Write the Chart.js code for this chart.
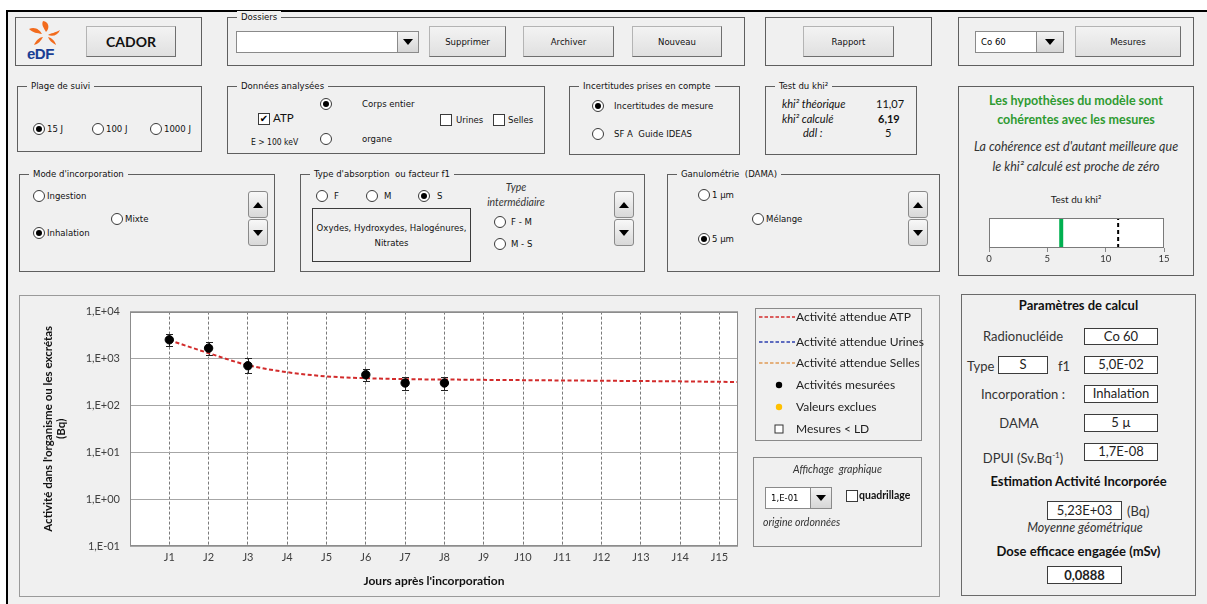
<!DOCTYPE html>
<html><head><meta charset="utf-8">
<script src="https://cdn.jsdelivr.net/npm/chart.js@4.4.0/dist/chart.umd.min.js"></script>
<style>
:root{--ui:"DejaVu Sans Condensed","Liberation Sans",sans-serif;--cal:"Lato","Carlito",sans-serif}
html,body{margin:0;padding:0;background:#fff;width:1207px;height:604px;overflow:hidden;position:relative}
#frame{position:absolute;left:6px;top:10px;width:1201px;height:594px;background:#f0f0f0;border-top:2px solid #000;border-left:2px solid #000;box-sizing:border-box}
.box{position:absolute;box-sizing:border-box;border:1px solid #5f5f5f}
.gl{position:absolute;top:-7px;left:9px;background:#f0f0f0;padding:0 4px;font:9.5px var(--ui);color:#111;line-height:12px;white-space:nowrap}
.t{position:absolute;white-space:nowrap;font:9.5px var(--ui);color:#111;line-height:12px}
.c{font-family:var(--cal)}
.btn{position:absolute;box-sizing:border-box;background:linear-gradient(#f3f3f3,#e0e0e0);border:1px solid #b4b4b4;border-right-color:#6f6f6f;border-bottom-color:#6f6f6f;font:9.5px var(--ui);color:#111;display:flex;align-items:center;justify-content:center}
.dd{position:absolute;box-sizing:border-box;background:#fff;border:1px solid #8a8a8a;font:9.5px var(--ui);line-height:20px;padding-left:5px}
.dda{position:absolute;top:0;right:0;bottom:0;box-sizing:border-box;background:linear-gradient(#f3f3f3,#d6d6d6);border-left:1px solid #8a8a8a;display:flex;align-items:center;justify-content:center}
.dn{width:0;height:0;border-left:5px solid transparent;border-right:5px solid transparent;border-top:6px solid #000}
.up{width:0;height:0;border-left:5px solid transparent;border-right:5px solid transparent;border-bottom:6px solid #000}
.rb{position:absolute;box-sizing:border-box;width:12px;height:12px;border:1px solid #3a3a3a;border-radius:50%;background:#fff}
.rb.on::after{content:"";position:absolute;left:2px;top:2px;width:6px;height:6px;border-radius:50%;background:#000}
.cb{position:absolute;box-sizing:border-box;width:12px;height:12px;border:1px solid #3a3a3a;background:#fff;font:10px "DejaVu Sans";line-height:10px;text-align:center}
.sp{position:absolute;box-sizing:border-box;width:20px;height:27px;border:1px solid #8a8a8a;border-radius:3px;background:linear-gradient(#f8f8f8,#d8d8d8);display:flex;align-items:center;justify-content:center}
.vb{position:absolute;box-sizing:border-box;background:#fff;border:1px solid #3c3c3c;font:13px var(--cal);color:#222;text-align:center;line-height:15px}
.pl{position:absolute;font:13px var(--cal);color:#333;white-space:nowrap;text-align:center;line-height:16px}
.lg{position:absolute;white-space:nowrap;font:12px var(--cal);line-height:14px;color:#222}
canvas{position:absolute}
</style></head>
<body>
<div id="frame"></div>

<!-- Row 1 -->
<div class="box" style="left:15px;top:17px;width:187px;height:49px"></div>
<svg style="position:absolute;left:26px;top:20px" width="40" height="42" viewBox="0 0 40 42">
  <g fill="#f26b1d">
    <path d="M17 1 C23 2 24 8 20 12 C18 8 15 5 17 1Z"/>
    <path d="M3 9 C9 6 14 10 16 14 C11 13 7 13 3 9Z"/>
    <path d="M34 10 C29 13 25 13 22 15 C27 17 32 15 34 10Z"/>
    <path d="M8 25 C10 20 14 17 17 17 C15 21 12 24 8 25Z"/>
    <path d="M30 25 C26 23 23 20 22 17 C26 18 29 21 30 25Z"/>
  </g>
  <text x="1" y="39" font-family="Liberation Sans" font-weight="bold" font-size="15" fill="#1a3f95" letter-spacing="-0.5">eDF</text>
</svg>
<div class="btn" style="left:86px;top:26px;width:90px;height:31px;font:bold 14px var(--cal)">CADOR</div>

<div class="box" style="left:227px;top:17px;width:518px;height:49px"><span class="gl">Dossiers</span></div>
<div class="dd" style="left:236px;top:31px;width:183px;height:22px"><div class="dda" style="width:21px"><div class="dn"></div></div></div>
<div class="btn" style="left:429px;top:26px;width:77px;height:31px">Supprimer</div>
<div class="btn" style="left:523px;top:26px;width:91px;height:31px">Archiver</div>
<div class="btn" style="left:632px;top:26px;width:90px;height:31px">Nouveau</div>

<div class="box" style="left:765px;top:17px;width:167px;height:49px"></div>
<div class="btn" style="left:803px;top:26px;width:91px;height:31px">Rapport</div>

<div class="box" style="left:958px;top:17px;width:236px;height:49px"></div>
<div class="dd" style="left:975px;top:31px;width:89px;height:22px">Co 60<div class="dda" style="width:27px"><div class="dn"></div></div></div>
<div class="btn" style="left:1075px;top:26px;width:106px;height:31px">Mesures</div>

<!-- Row 2 -->
<div class="box" style="left:17px;top:86px;width:185px;height:66px"><span class="gl">Plage de suivi</span></div>
<div class="rb on" style="left:33px;top:123px"></div><div class="t" style="left:47px;top:123px">15 J</div>
<div class="rb" style="left:92px;top:123px"></div><div class="t" style="left:106px;top:123px">100 J</div>
<div class="rb" style="left:150px;top:123px"></div><div class="t" style="left:164px;top:123px">1000 J</div>

<div class="box" style="left:227px;top:86px;width:318px;height:68px"><span class="gl">Données analysées</span></div>
<div class="cb" style="left:258px;top:113px">✔</div><div class="t c" style="left:273px;top:112px;font-size:11.5px">ATP</div>
<div class="t" style="left:251px;top:136px;font-size:8.5px">E &gt; 100 keV</div>
<div class="rb on" style="left:320px;top:98px"></div><div class="t" style="left:362px;top:98px">Corps entier</div>
<div class="rb" style="left:320px;top:133px"></div><div class="t" style="left:362px;top:133px">organe</div>
<div class="cb" style="left:440px;top:114px"></div><div class="t" style="left:456px;top:114px">Urines</div>
<div class="cb" style="left:493px;top:114px"></div><div class="t" style="left:508px;top:114px">Selles</div>

<div class="box" style="left:569px;top:86px;width:171px;height:69px"><span class="gl">Incertitudes prises en compte</span></div>
<div class="rb on" style="left:592px;top:100px"></div><div class="t" style="left:614px;top:100px">Incertitudes de mesure</div>
<div class="rb" style="left:592px;top:128px"></div><div class="t" style="left:614px;top:128px">SF A&nbsp; Guide IDEAS</div>

<div class="box" style="left:765px;top:86px;width:152px;height:69px"><span class="gl">Test du khi²</span></div>
<div class="t c" style="left:782px;top:98px;font-size:11px;font-style:italic">khi² théorique</div><div class="t c" style="left:876px;top:98px;font-size:11px">11,07</div>
<div class="t c" style="left:782px;top:113px;font-size:11px;font-style:italic">khi² calculé</div><div class="t c" style="left:878px;top:113px;font-size:11px;font-weight:bold">6,19</div>
<div class="t c" style="left:803px;top:127px;font-size:11px;font-style:italic">ddl :</div><div class="t c" style="left:885px;top:127px;font-size:11px">5</div>

<div class="box" style="left:958px;top:86px;width:236px;height:190px"></div>
<div class="pl" style="left:958px;width:236px;top:93px;font-weight:bold;color:#2f9b32;font-size:12.5px">Les hypothèses du modèle sont</div>
<div class="pl" style="left:958px;width:236px;top:112px;font-weight:bold;color:#2f9b32;font-size:12.5px">cohérentes avec les mesures</div>
<div class="pl" style="left:958px;width:236px;top:139px;font-style:italic;color:#333;font-size:12.5px">La cohérence est d'autant meilleure que</div>
<div class="pl" style="left:958px;width:236px;top:159px;font-style:italic;color:#333;font-size:12.5px">le khi² calculé est proche de zéro</div>
<div class="pl" style="left:958px;width:236px;top:191px;font-size:10px;color:#222">Test du khi²</div>
<canvas id="khi" width="200" height="64" style="left:975px;top:208px"></canvas>

<!-- Row 3 -->
<div class="box" style="left:19px;top:174px;width:256px;height:98px"><span class="gl">Mode d'incorporation</span></div>
<div class="rb" style="left:33px;top:190px"></div><div class="t" style="left:47px;top:190px">Ingestion</div>
<div class="rb" style="left:111px;top:213px"></div><div class="t" style="left:125px;top:213px">Mixte</div>
<div class="rb on" style="left:33px;top:227px"></div><div class="t" style="left:47px;top:227px">Inhalation</div>
<div class="sp" style="left:248px;top:191px"><div class="up"></div></div>
<div class="sp" style="left:248px;top:219px"><div class="dn"></div></div>

<div class="box" style="left:300px;top:174px;width:345px;height:98px"><span class="gl">Type d'absorption&nbsp; ou facteur f1</span></div>
<div class="rb" style="left:316px;top:190px"></div><div class="t" style="left:334px;top:190px">F</div>
<div class="rb" style="left:366px;top:190px"></div><div class="t" style="left:384px;top:190px">M</div>
<div class="rb on" style="left:418px;top:190px"></div><div class="t" style="left:437px;top:190px">S</div>
<div class="pl" style="left:476px;width:80px;top:180px;font-size:10.5px;font-style:italic;line-height:14px">Type</div>
<div class="pl" style="left:476px;width:80px;top:195px;font-size:10.5px;font-style:italic;line-height:14px">intermédiaire</div>
<div class="box" style="left:312px;top:208px;width:159px;height:54px;border-color:#3c3c3c"></div>
<div class="pl" style="left:312px;width:159px;top:220px;font:9.5px var(--ui);line-height:15px;color:#111">Oxydes, Hydroxydes, Halogénures,<br>Nitrates</div>
<div class="rb" style="left:494px;top:216px"></div><div class="t" style="left:511px;top:216px">F - M</div>
<div class="rb" style="left:494px;top:238px"></div><div class="t" style="left:511px;top:238px">M - S</div>
<div class="sp" style="left:614px;top:191px"><div class="up"></div></div>
<div class="sp" style="left:614px;top:219px"><div class="dn"></div></div>

<div class="box" style="left:667px;top:174px;width:273px;height:98px"><span class="gl">Ganulométrie&nbsp; (DAMA)</span></div>
<div class="rb" style="left:698px;top:189px"></div><div class="t" style="left:712px;top:189px">1 µm</div>
<div class="rb" style="left:752px;top:213px"></div><div class="t" style="left:766px;top:213px">Mélange</div>
<div class="rb on" style="left:698px;top:233px"></div><div class="t" style="left:712px;top:233px">5 µm</div>
<div class="sp" style="left:908px;top:191px"><div class="up"></div></div>
<div class="sp" style="left:908px;top:219px"><div class="dn"></div></div>

<!-- Chart frame -->
<div class="box" style="left:19px;top:295px;width:921px;height:302px;border-color:#9a9a9a"></div>
<canvas id="main" width="920" height="301" style="left:19px;top:295px"></canvas>

<div class="box" style="left:755px;top:308px;width:167px;height:133px;border-color:#8a8a8a"></div>
<svg style="position:absolute;left:755px;top:308px" width="167" height="133">
  <line x1="4" y1="9" x2="40" y2="9" stroke="#d22b2b" stroke-width="1.5" stroke-dasharray="3.5,2"/>
  <line x1="4" y1="34" x2="40" y2="34" stroke="#2c3fae" stroke-width="1.5" stroke-dasharray="3.5,2"/>
  <line x1="4" y1="55" x2="40" y2="55" stroke="#e09a55" stroke-width="1.5" stroke-dasharray="3.5,2"/>
  <circle cx="24" cy="77" r="3.2" fill="#000"/>
  <circle cx="24" cy="99" r="3.2" fill="#ffc000"/>
  <rect x="20" y="117" width="8" height="8" fill="#fff" stroke="#333" stroke-width="1"/>
</svg>
<div class="lg" style="left:796px;top:310px">Activité attendue ATP</div>
<div class="lg" style="left:796px;top:335px">Activité attendue Urines</div>
<div class="lg" style="left:796px;top:356px">Activité attendue Selles</div>
<div class="lg" style="left:796px;top:378px">Activités mesurées</div>
<div class="lg" style="left:796px;top:400px">Valeurs exclues</div>
<div class="lg" style="left:796px;top:422px">Mesures &lt; LD</div>

<div class="box" style="left:753px;top:457px;width:169px;height:90px;border-color:#8a8a8a"></div>
<div class="pl" style="left:753px;width:169px;top:461px;font-size:10.5px;font-style:italic;color:#333">Affichage&nbsp; graphique</div>
<div class="dd" style="left:765px;top:487px;width:67px;height:22px">1,E-01<div class="dda" style="width:21px"><div class="dn"></div></div></div>
<div class="cb" style="left:846px;top:490px"></div><div class="t c" style="left:859px;top:489px;font-size:10.5px;font-weight:bold">quadrillage</div>
<div class="t c" style="left:763px;top:516px;font-size:10.5px;font-style:italic;color:#333">origine ordonnées</div>

<!-- Paramètres -->
<div class="box" style="left:961px;top:294px;width:235px;height:302px;border-color:#6a6a6a"></div>
<div class="pl" style="left:961px;width:235px;top:297px;font-weight:bold;color:#111">Paramètres de calcul</div>
<div class="pl" style="left:982px;width:82px;top:328px">Radionucléide</div>
<div class="vb" style="left:1084px;top:328px;width:74px;height:17px">Co 60</div>
<div class="pl" style="left:967px;top:358px">Type</div>
<div class="vb" style="left:998px;top:356px;width:50px;height:18px">S</div>
<div class="pl" style="left:1058px;top:358px">f1</div>
<div class="vb" style="left:1084px;top:356px;width:74px;height:18px">5,0E-02</div>
<div class="pl" style="left:978px;width:90px;top:386px">Incorporation :</div>
<div class="vb" style="left:1084px;top:385px;width:74px;height:18px">Inhalation</div>
<div class="pl" style="left:978px;width:82px;top:415px">DAMA</div>
<div class="vb" style="left:1084px;top:414px;width:74px;height:18px">5 µ</div>
<div class="pl" style="left:978px;width:90px;top:447px">DPUI (Sv.Bq<sup style="font-size:8px">-1</sup>)</div>
<div class="vb" style="left:1084px;top:443px;width:74px;height:18px">1,7E-08</div>
<div class="pl" style="left:961px;width:235px;top:473px;font-weight:bold;color:#111">Estimation Activité Incorporée</div>
<div class="vb" style="left:1047px;top:501px;width:75px;height:19px;line-height:17px">5,23E+03</div>
<div class="pl" style="left:1127px;top:503px">(Bq)</div>
<div class="pl" style="left:961px;width:248px;top:520px;font-style:italic;font-size:12.5px">Moyenne géométrique</div>
<div class="pl" style="left:961px;width:235px;top:543px;font-weight:bold;color:#111">Dose efficace engagée (mSv)</div>
<div class="vb" style="left:1047px;top:566px;width:75px;height:18px;font-weight:bold;line-height:16px">0,0888</div>

<script>
// ---- data ----
const days = ['J1','J2','J3','J4','J5','J6','J7','J8','J9','J10','J11','J12','J13','J14','J15'];
const dayNums = [1,2,3,4,5,6,7,8,9,10,11,12,13,14,15];
const measDays = [1,2,3,6,7,8];
const measVals = [2500,1660,700,450,300,300];
const measLow  = [1830,1160,480,330,215,215];
const measHigh = [3400,2200,1000,600,410,410];
const modelDays = [1,2,3,4,5,6,7,8,9,10,11,12,13,14,15,15.5];
const modelATP  = [2450,1300,720,510,415,380,362,356,350,345,340,335,330,325,318,315];
const yTickVals = [0.1,1,10,100,1000,10000];
const yTickLabels = ['1,E-01','1,E+00','1,E+01','1,E+02','1,E+03','1,E+04'];
const khiTheorique = 11.07;
const khiCalcule = 6.19;
const khiTicks = [0,5,10,15];

const plotBox = {
  id:'plotBox',
  beforeDraw(chart){
    const a = chart.chartArea, ctx = chart.ctx;
    ctx.save(); ctx.fillStyle='#fff'; ctx.fillRect(a.left,a.top,a.width,a.height); ctx.restore();
  },
  afterDraw(chart){
    const a = chart.chartArea, ctx = chart.ctx;
    ctx.save(); ctx.strokeStyle = chart.options.plugins.plotBox.color; ctx.lineWidth=1;
    ctx.strokeRect(Math.round(a.left)+0.5, Math.round(a.top)+0.5, Math.round(a.width)-1, Math.round(a.height)-1);
    ctx.restore();
  }
};
const errorBars = {
  id:'errorBars',
  beforeDatasetsDraw(chart){
    if (chart.canvas.id !== 'main') return;
    const {ctx, scales:{x,y}} = chart;
    ctx.save(); ctx.strokeStyle='#222'; ctx.lineWidth=1;
    measDays.forEach((d,i)=>{
      const px = Math.round(x.getPixelForValue(d))+0.5;
      const y1 = Math.round(y.getPixelForValue(measLow[i]))+0.5, y2 = Math.round(y.getPixelForValue(measHigh[i]))+0.5;
      ctx.beginPath();
      ctx.moveTo(px,y1); ctx.lineTo(px,y2);
      ctx.moveTo(px-3.5,y1); ctx.lineTo(px+3.5,y1);
      ctx.moveTo(px-3.5,y2); ctx.lineTo(px+3.5,y2);
      ctx.stroke();
    });
    ctx.restore();
  }
};

new Chart(document.getElementById('main'), {
  type:'scatter',
  data:{ datasets:[
    { type:'line', label:'Activité attendue ATP',
      data: modelDays.map((d,i)=>({x:d,y:modelATP[i]})),
      borderColor:'#d22b2b', borderWidth:2, borderDash:[4,2.5], pointRadius:0,
      cubicInterpolationMode:'monotone', fill:false, order:2 },
    { label:'Activités mesurées',
      data: measDays.map((d,i)=>({x:d,y:measVals[i]})),
      pointRadius:4.2, backgroundColor:'#000', borderColor:'#000', order:1 }
  ]},
  options:{
    responsive:false, animation:false,
    layout:{padding:{left:0,right:201,top:12,bottom:0}},
    plugins:{legend:{display:false}, tooltip:{enabled:false}, plotBox:{color:'#8c8c8c'}},
    scales:{
      x:{ type:'linear', min:0, max:15.47,
        afterBuildTicks:s=>{ s.ticks = dayNums.map(v=>({value:v})); },
        afterFit:s=>{ s.height = 50; },
        ticks:{ callback:(v,i)=>days[i], autoSkip:false, maxRotation:0, padding:5, color:'#404040', font:{family:'Lato', size:11} },
        grid:{ color:'#7a7a7a', drawTicks:false, lineWidth:1 },
        border:{ display:false, dash:[3,2] },
        title:{ display:true, text:"Jours après l'incorporation", color:'#111', font:{family:'Lato', size:12, weight:'bold'}, padding:{top:0,bottom:8} }
      },
      y:{ type:'logarithmic', min:0.1, max:10000,
        afterBuildTicks:s=>{ s.ticks = yTickVals.map(v=>({value:v})); },
        afterFit:s=>{ s.width = 111; },
        ticks:{ callback:(v,i)=>yTickLabels[i], autoSkip:false, padding:10, color:'#404040', font:{family:'Lato', size:11} },
        grid:{ color:'#a6a6a6', drawTicks:false, lineWidth:1 },
        border:{ display:false },
        title:{ display:true, text:["Activité dans l'organisme ou les excrétas","(Bq)"], color:'#111', font:{family:'Lato', size:11.5, weight:'bold'}, padding:{top:22,bottom:0} }
      }
    }
  },
  plugins:[plotBox, errorBars]
});

new Chart(document.getElementById('khi'), {
  type:'scatter',
  data:{ datasets:[
    { label:'khi² calculé', data:[{x:khiCalcule,y:0},{x:khiCalcule,y:1}], showLine:true, borderColor:'#00b050', borderWidth:4, pointRadius:0 },
    { label:'khi² théorique', data:[{x:khiTheorique,y:0},{x:khiTheorique,y:1}], showLine:true, borderColor:'#000', borderWidth:2, borderDash:[4,3], pointRadius:0 }
  ]},
  options:{
    responsive:false, animation:false,
    layout:{padding:{left:14,right:11,top:10,bottom:0}},
    plugins:{legend:{display:false}, tooltip:{enabled:false}, plotBox:{color:'#7a7a7a'}},
    scales:{
      x:{ type:'linear', min:0, max:15,
        afterBuildTicks:s=>{ s.ticks = khiTicks.map(v=>({value:v})); },
        afterFit:s=>{ s.height = 24; },
        ticks:{ autoSkip:false, maxRotation:0, padding:1, color:'#333', font:{family:'Lato', size:9.5} },
        grid:{ display:true, drawOnChartArea:false, drawTicks:true, tickLength:4, color:'#888' },
        border:{ display:false }
      },
      y:{ display:false, min:0, max:1 }
    }
  },
  plugins:[plotBox]
});
</script>
</body></html>
